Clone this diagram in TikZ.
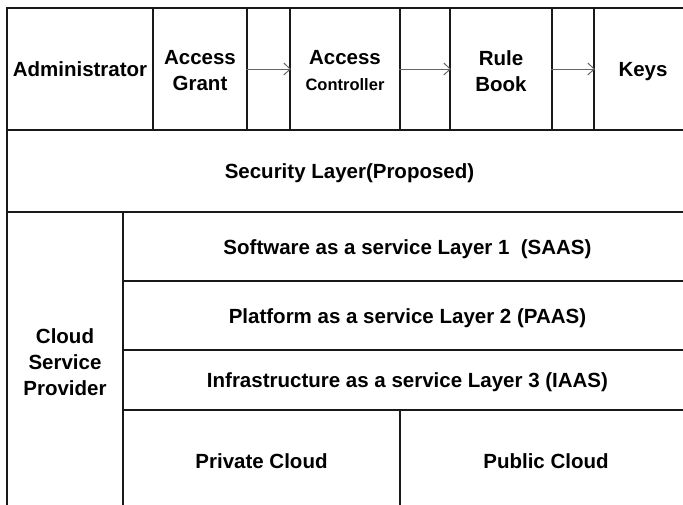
\documentclass[tikz,border=0pt]{standalone}
\usepackage{fontspec}
\setmainfont{Liberation Sans}
\usetikzlibrary{arrows.meta}
\tikzset{
  cell/.style={draw=black!90, line width=2pt, inner sep=0pt, align=center,
    font=\fontsize{20.5}{26}\selectfont\bfseries},
  oneline/.style={text height=15pt, text depth=0pt},
  label2/.style={inner sep=0pt, align=center, font=\fontsize{20.5}{26}\selectfont\bfseries},
  flow/.style={draw=black!60, line width=1pt, -{Straight Barb[length=6.5pt,width=12pt,line width=1pt]}}
}
\begin{document}
\begin{tikzpicture}[x=1pt,y=-1pt]
\useasboundingbox (0,0) rectangle (683,504);
\clip (0,0) rectangle (683,504);
% top row
\node[cell, oneline, minimum width=146pt, minimum height=122pt] (adm) at (80,69) {Administrator};
\node[cell, minimum width=94pt, minimum height=122pt] (grant) at (200,69) {};
\node[label2] (grantT) at (200,71) {Access\\Grant};
\node[cell, minimum width=43pt, minimum height=122pt] (a1) at (268.5,69) {};
\node[cell, minimum width=110pt, minimum height=122pt] (ctrl) at (345,69) {};
\node[label2] (ctrlT) at (345,71) {Access\\{\fontsize{16.5}{20}\selectfont Controller}};
\node[cell, minimum width=50pt, minimum height=122pt] (a2) at (425,69) {};
\node[cell, minimum width=102pt, minimum height=122pt] (rule) at (501,69) {};
\node[label2] (ruleT) at (501,71) {Rule\\Book};
\node[cell, minimum width=42pt, minimum height=122pt] (a3) at (573,69) {};
\node[cell, oneline, minimum width=98pt, minimum height=122pt] (keys) at (643,69) {Keys};
% security layer
\node[cell, oneline, minimum width=685pt, minimum height=82pt] (sec) at (349.5,171) {Security Layer(Proposed)};
% cloud service provider
\node[cell, minimum width=116pt, minimum height=300pt] (csp) at (65,362) {Cloud\\Service\\Provider};
\node[cell, oneline, minimum width=569pt, minimum height=69pt] (saas) at (407.5,246.5) {Software as a service Layer 1 \ (SAAS)};
\node[cell, oneline, minimum width=569pt, minimum height=69pt] (paas) at (407.5,315.5) {Platform as a service Layer 2 (PAAS)};
\node[cell, oneline, minimum width=569pt, minimum height=60pt] (iaas) at (407.5,380) {Infrastructure as a service Layer 3 (IAAS)};
\node[cell, oneline, minimum width=277pt, minimum height=102pt] (priv) at (261.5,461) {Private Cloud};
\node[cell, oneline, minimum width=292pt, minimum height=102pt] (pub) at (546,461) {Public Cloud};
% arrows
\draw[flow] (a1.west) -- (a1.east);
\draw[flow] (a2.west) -- (a2.east);
\draw[flow] (a3.west) -- (a3.east);
\end{tikzpicture}
\end{document}
